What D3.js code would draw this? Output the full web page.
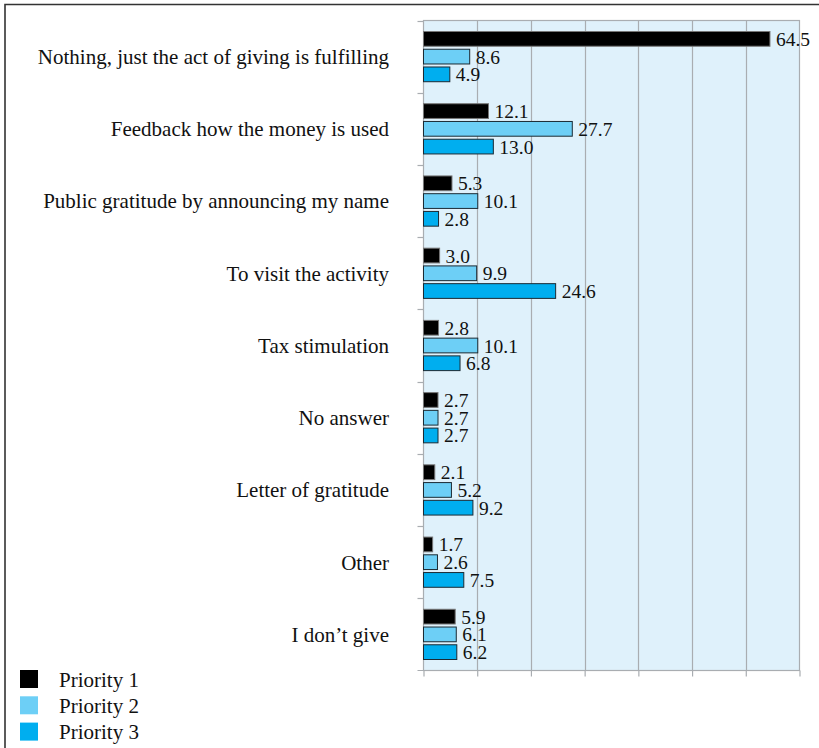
<!DOCTYPE html>
<html>
<head>
<meta charset="utf-8">
<script src="https://cdn.jsdelivr.net/npm/d3@7"></script>
<style>
  html, body { margin: 0; padding: 0; background: #fff; }
  svg { display: block; }
  text { font-family: "Liberation Serif", "DejaVu Serif", serif; fill: #111; }
</style>
</head>
<body>
<svg id="chart" width="819" height="748"></svg>
<script>
// Reasons that would motivate giving, by priority (percent)
const categories = [
  "Nothing, just the act of giving is fulfilling",
  "Feedback how the money is used",
  "Public gratitude by announcing my name",
  "To visit the activity",
  "Tax stimulation",
  "No answer",
  "Letter of gratitude",
  "Other",
  "I don\u2019t give"
];
const seriesNames = ["Priority 1", "Priority 2", "Priority 3"];
const priority1 = [64.5, 12.1, 5.3, 3.0, 2.8, 2.7, 2.1, 1.7, 5.9];
const priority2 = [8.6, 27.7, 10.1, 9.9, 10.1, 2.7, 5.2, 2.6, 6.1];
const priority3 = [4.9, 13.0, 2.8, 24.6, 6.8, 2.7, 9.2, 7.5, 6.2];
const xTicks = [0, 10, 20, 30, 40, 50, 60, 70];

const colors = ["#000000", "#6dcff6", "#00aeef"];
const strokes = ["#777777", "#1b2a33", "#1b2a33"];
const series = [priority1, priority2, priority3];

const svg = d3.select("#chart");

// outer frame (top and left edges)
svg.append("path")
  .attr("d", "M5,748 V4.5 H819")
  .attr("fill", "none").attr("stroke", "#333").attr("stroke-width", 1.6);

const plot = { left: 423.5, right: 799.5, top: 20.5, bottom: 670.5 };

const x = d3.scaleLinear().domain([0, 70]).range([plot.left, plot.right]);
const y = d3.scaleBand().domain(categories).range([plot.top, plot.bottom]);
const inner = d3.scaleBand().domain(d3.range(3)).range([11, y.bandwidth() - 11]).paddingInner(0.17);

// plot background
svg.append("rect")
  .attr("x", plot.left).attr("y", plot.top)
  .attr("width", plot.right - plot.left).attr("height", plot.bottom - plot.top)
  .attr("fill", "#dff1fb").attr("stroke", "#a9adb1").attr("stroke-width", 1.2);

// vertical gridlines
svg.append("g").selectAll("line")
  .data(xTicks.slice(1, -1)).join("line")
  .attr("x1", d => Math.round(x(d)) + 0.5).attr("x2", d => Math.round(x(d)) + 0.5)
  .attr("y1", plot.top).attr("y2", plot.bottom)
  .attr("stroke", "#a9adb1").attr("stroke-width", 1.2);

// bottom axis: tick marks only
const xAxis = d3.axisBottom(x).tickValues(xTicks).tickSize(6).tickFormat("").tickSizeOuter(0);
const gx = svg.append("g").attr("transform", `translate(0,${plot.bottom})`).call(xAxis);
gx.select(".domain").attr("stroke", "#a9adb1").attr("stroke-width", 1.2)
  .attr("d", `M${plot.left - 6},0H${plot.right}`);
gx.selectAll(".tick line").attr("stroke", "#a9adb1").attr("stroke-width", 1.2);

// left axis: tick marks at band boundaries
const bounds = categories.map(c => y(c));
svg.append("g").selectAll("line")
  .data(bounds).join("line")
  .attr("x1", plot.left - 6).attr("x2", plot.left)
  .attr("y1", d => Math.round(d) + 0.5).attr("y2", d => Math.round(d) + 0.5)
  .attr("stroke", "#a9adb1").attr("stroke-width", 1.2);

// category labels
svg.append("g").selectAll("text")
  .data(categories).join("text")
  .attr("x", 389)
  .attr("y", d => y(d) + y.bandwidth() / 2)
  .attr("dy", "0.35em")
  .attr("text-anchor", "end")
  .attr("font-size", 21)
  .text(d => d);

// bars and value labels
series.forEach((vals, s) => {
  const g = svg.append("g");
  g.selectAll("rect")
    .data(vals).join("rect")
    .attr("x", x(0))
    .attr("y", (d, i) => y(categories[i]) + inner(s))
    .attr("width", d => x(d) - x(0))
    .attr("height", inner.bandwidth())
    .attr("fill", colors[s])
    .attr("stroke", strokes[s]).attr("stroke-width", 1);
  g.selectAll("text")
    .data(vals).join("text")
    .attr("x", d => x(d) + 6)
    .attr("y", (d, i) => y(categories[i]) + inner(s) + inner.bandwidth() / 2)
    .attr("dy", "0.36em")
    .attr("font-size", 19.5)
    .text(d => d.toFixed(1));
});

// legend
const legend = svg.append("g");
seriesNames.forEach((name, s) => {
  const ly = 670 + s * 26.3;
  legend.append("rect")
    .attr("x", 20).attr("y", ly).attr("width", 18).attr("height", 18)
    .attr("fill", colors[s]);
  legend.append("text")
    .attr("x", 59).attr("y", ly + 9).attr("dy", "0.36em")
    .attr("font-size", 21)
    .text(name);
});
</script>
</body>
</html>
